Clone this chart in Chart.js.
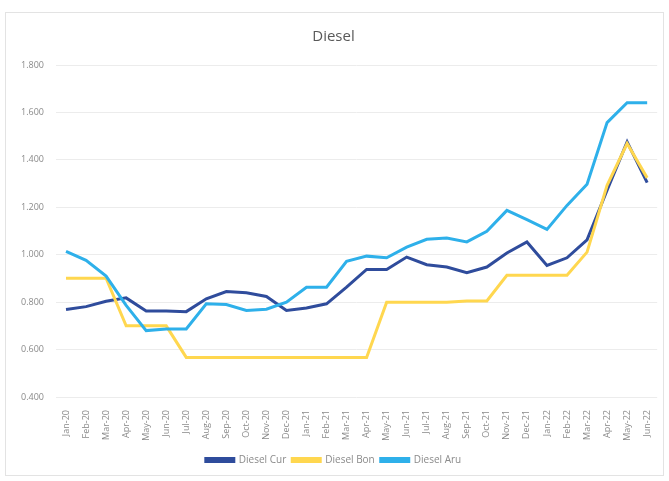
<!DOCTYPE html>
<html>
<head>
<meta charset="utf-8">
<script src="https://cdn.jsdelivr.net/npm/chart.js@4"></script>
<style>
  html, body { margin: 0; padding: 0; background: #fff; }
  #box { position: absolute; left: 5px; top: 12px; border: 1px solid #e3e3e3; }
  #box canvas { display: block; }
</style>
</head>
<body>
<div id="box"><canvas id="chart" width="657" height="462"></canvas></div>
<script>
  // Diesel prices, monthly, Jan-20 .. Jun-22
  const months = [
    'Jan-20','Feb-20','Mar-20','Apr-20','May-20','Jun-20','Jul-20','Aug-20','Sep-20','Oct-20','Nov-20','Dec-20',
    'Jan-21','Feb-21','Mar-21','Apr-21','May-21','Jun-21','Jul-21','Aug-21','Sep-21','Oct-21','Nov-21','Dec-21',
    'Jan-22','Feb-22','Mar-22','Apr-22','May-22','Jun-22'
  ];
  const dieselCur = [
    0.769, 0.781, 0.804, 0.818, 0.763, 0.763, 0.760, 0.814, 0.845, 0.840, 0.824, 0.765,
    0.775, 0.793, 0.863, 0.938, 0.938, 0.990, 0.958, 0.948, 0.924, 0.948, 1.007, 1.054,
    0.955, 0.987, 1.063, 1.272, 1.476, 1.304
  ];
  const dieselBon = [
    0.901, 0.901, 0.901, 0.700, 0.700, 0.700, 0.567, 0.567, 0.567, 0.567, 0.567, 0.567,
    0.567, 0.567, 0.567, 0.567, 0.800, 0.800, 0.800, 0.800, 0.805, 0.805, 0.913, 0.913,
    0.913, 0.913, 1.011, 1.293, 1.469, 1.324
  ];
  const dieselAru = [
    1.014, 0.976, 0.910, 0.786, 0.680, 0.687, 0.687, 0.793, 0.790, 0.765, 0.770, 0.800,
    0.863, 0.863, 0.972, 0.994, 0.987, 1.032, 1.065, 1.070, 1.054, 1.099, 1.187, 1.148,
    1.107, 1.208, 1.297, 1.557, 1.641, 1.641
  ];
  const yTicks = [0.4, 0.6, 0.8, 1.0, 1.2, 1.4, 1.6, 1.8];

  const fontFam = '"Open Sans", "Noto Sans", sans-serif';

  function series(label, data, color, order) {
    return {
      label: label,
      data: data,
      borderColor: color,
      backgroundColor: color,
      borderWidth: 3,
      pointRadius: 0,
      tension: 0,
      fill: false,
      order: order
    };
  }

  new Chart(document.getElementById('chart'), {
    type: 'line',
    data: {
      labels: months,
      datasets: [
        series('Diesel Cur', dieselCur, '#2f4c9c', 3),
        series('Diesel Bon', dieselBon, '#ffd74f', 2),
        series('Diesel Aru', dieselAru, '#2eb0ea', 1)
      ]
    },
    options: {
      responsive: false,
      animation: false,
      layout: { padding: { left: 0, right: 2, top: 0, bottom: 0 } },
      plugins: {
        title: {
          display: true,
          text: 'Diesel',
          color: '#595959',
          font: { family: fontFam, size: 15, weight: 'normal' },
          padding: { top: 15, bottom: 19 }
        },
        legend: {
          position: 'bottom',
          labels: {
            color: '#8a8a8a',
            font: { family: fontFam, size: 10 },
            boxWidth: 28,
            boxHeight: 3,
            padding: 6,
            sort: (a, b) => a.datasetIndex - b.datasetIndex
          }
        },
        tooltip: { enabled: false }
      },
      scales: {
        x: {
          offset: true,
          grid: { display: false },
          border: { display: false },
          ticks: {
            color: '#8a8a8a',
            font: { family: fontFam, size: 9 },
            maxRotation: 90,
            minRotation: 90,
            autoSkip: false,
            padding: 5
          },
          afterFit: (s) => { s.height = 52; }
        },
        y: {
          min: 0.4,
          max: 1.8,
          afterBuildTicks: (s) => { s.ticks = yTicks.map(v => ({ value: v })); },
          grid: { color: '#ececec', lineWidth: 1, drawTicks: false },
          border: { display: false },
          ticks: {
            color: '#8a8a8a',
            font: { family: fontFam, size: 9 },
            padding: 12,
            callback: (v) => Number(v).toFixed(3)
          },
          afterFit: (s) => { s.width = 50; }
        }
      }
    }
  });
</script>
</body>
</html>
